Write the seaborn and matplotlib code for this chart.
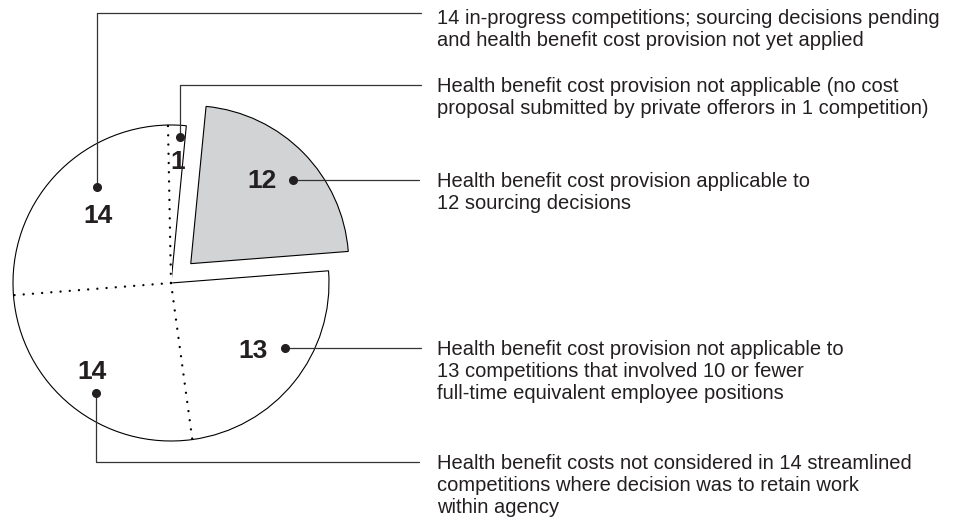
import numpy as np
import matplotlib
matplotlib.use("Agg")
import matplotlib.pyplot as plt
import seaborn as sns

sns.set_style("white")
plt.rcParams['font.family'] = ['Liberation Sans', 'DejaVu Sans']

# data (clockwise from the top)
values = [1, 12, 13, 14, 14]
exploded = [False, True, False, False, False]
fills = ['white', '#d1d3d4', 'white', 'white', 'white']
notes = [
    "Health benefit cost provision not applicable (no cost\nproposal submitted by private offerors in 1 competition)",
    "Health benefit cost provision applicable to\n12 sourcing decisions",
    "Health benefit cost provision not applicable to\n13 competitions that involved 10 or fewer\nfull-time equivalent employee positions",
    "Health benefit costs not considered in 14 streamlined\ncompetitions where decision was to retain work\nwithin agency",
    "14 in-progress competitions; sourcing decisions pending\nand health benefit cost provision not yet applied",
]

W, H = 957, 520
CX, CY, R = 171, 283, 158
START = 91.1
INK = '#231f20'
LINE_H = 21.8


def P(px, py):
    # pixel position -> data coords (pie radius = 1)
    return (px - CX) / R, (CY - py) / R


fig = plt.figure(figsize=(W / 100, H / 100), dpi=100)
ax = fig.add_axes([0, 0, 1, 1])

wedges, _ = ax.pie(values, colors=fills, startangle=START, counterclock=False,
                   explode=[0.175 if e else 0 for e in exploded], radius=1,
                   wedgeprops=dict(edgecolor='black', linewidth=0.8))
ax.set_xlim(P(0, 0)[0], P(W, 0)[0])
ax.set_ylim(P(0, H)[1], P(0, 0)[1])
ax.set_aspect('equal')
ax.axis('off')

# dotted separators between slices that stay in the pie
bounds = START - np.cumsum([0] + values) / sum(values) * 360
n = len(values)
for i in range(n):
    a, b = i, (i + 1) % n
    if exploded[a] or exploded[b]:
        continue
    t = np.deg2rad(bounds[i + 1])
    xs = [0, 0.994 * np.cos(t)]
    ys = [0, 0.994 * np.sin(t)]
    ax.plot(xs, ys, color='white', lw=1.8, solid_capstyle='butt', zorder=3)
    ax.plot(xs, ys, color='black', lw=1.7, linestyle=(0, (0.01, 3.9)),
            dash_capstyle='round', zorder=4)

# value labels (baseline), dots and leader lines
label_px = [(178, 169), (262, 188), (253, 358), (92, 379), (98, 223)]
dot_px = [(180, 137), (293, 180), (285, 348), (96, 393), (97, 187)]
leader_px = [
    [(180, 137), (180, 85), (421, 85)],
    [(293, 180), (419, 180)],
    [(285, 348), (421, 348)],
    [(96, 393), (96, 462), (419, 462)],
    [(97, 187), (97, 13), (421, 13)],
]
note_base = [92, 187, 355, 469, 24]   # baseline of first line

for i, v in enumerate(values):
    lx, ly = P(*label_px[i])
    ax.text(lx, ly, str(v), fontsize=19, fontweight='bold', color=INK,
            ha='center', va='baseline', zorder=5)
    pts = np.array([P(*p) for p in leader_px[i]])
    ax.plot(pts[:, 0], pts[:, 1], color='#333333', lw=0.9, zorder=5)
    dx, dy = P(*dot_px[i])
    ax.plot(dx, dy, 'o', color=INK, ms=5.5, zorder=6)
    nlines = notes[i].count('\n')
    tx, ty = P(437, note_base[i] + nlines * LINE_H)
    ax.text(tx, ty, notes[i], fontsize=14.5, color=INK, ha='left', va='baseline',
            linespacing=1.18)

fig.savefig('out.png', dpi=100)
